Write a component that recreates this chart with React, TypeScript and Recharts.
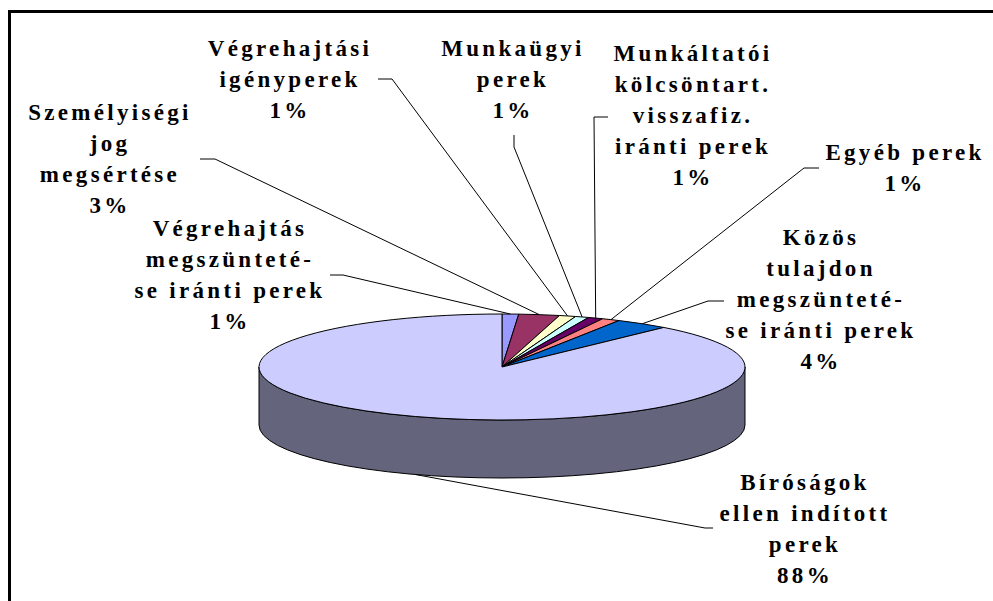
import React from 'react';
import { PieChart, Pie } from 'recharts';

const categories = [
  'Végrehajtás megszüntetése iránti perek',
  'Személyiségi jog megsértése',
  'Végrehajtási igényperek',
  'Munkaügyi perek',
  'Munkáltatói kölcsöntart. visszafiz. iránti perek',
  'Egyéb perek',
  'Közös tulajdon megszüntetése iránti perek',
  'Bíróságok ellen indított perek',
];

const values = [1.1, 2.7, 1.1, 0.9, 1.0, 1.2, 3.6, 88.4];

// label text broken into lines like in the original
const labelLines = [
  ['Végrehajtás', 'megszünteté-', 'se iránti perek'],
  ['Személyiségi', 'jog', 'megsértése'],
  ['Végrehajtási', 'igényperek'],
  ['Munkaügyi', 'perek'],
  ['Munkáltatói', 'kölcsöntart.', 'visszafiz.', 'iránti perek'],
  ['Egyéb perek'],
  ['Közös', 'tulajdon', 'megszünteté-', 'se iránti perek'],
  ['Bíróságok', 'ellen indított', 'perek'],
];

const colors = ['#9999FF', '#993366', '#FFFFCC', '#CCFFFF', '#660066', '#FF8080', '#0066CC', '#CCCCFF'];

// where the labels sit (text centre x, first baseline y) and their leader stubs
const labelLayout = [
  { x: 230, y: 236, stub: [[330, 275], [343, 275]] },
  { x: 110, y: 120, stub: [[200, 159], [215, 159]] },
  { x: 290, y: 56, stub: [[378, 79], [392, 79]] },
  { x: 513, y: 56, stub: [[514, 135], [514, 147]] },
  { x: 693, y: 61, stub: [[608, 117], [594, 117]] },
  { x: 905, y: 160, stub: [[819, 168], [804, 168]] },
  { x: 821, y: 245, stub: [[724, 301], [708, 301]] },
  { x: 805, y: 490, stub: [[713, 528], [705, 528]] },
];

const data = categories.map((name, i) => ({ name, value: values[i] }));

const TILT = 53 / 243;
const DEPTH = 58;
const RAD = Math.PI / 180;
const LINE_H = 31;
const FONT = "'Liberation Serif', 'Times New Roman', serif";

const shade = (hex: string, k: number) => {
  const n = parseInt(hex.slice(1), 16);
  const r = Math.round(((n >> 16) & 255) * k);
  const g = Math.round(((n >> 8) & 255) * k);
  const b = Math.round((n & 255) * k);
  return `rgb(${r},${g},${b})`;
};

const ellipsePt = (cx: number, cy: number, rx: number, ry: number, a: number, dy = 0) => [
  cx + rx * Math.cos(a * RAD),
  cy - ry * Math.sin(a * RAD) + dy,
];

const renderFace = (props: any) => {
  const { cx, cy, outerRadius, startAngle, endAngle, index } = props;
  const rx = outerRadius;
  const ry = outerRadius * TILT;
  const [x1, y1] = ellipsePt(cx, cy, rx, ry, startAngle);
  const [x2, y2] = ellipsePt(cx, cy, rx, ry, endAngle);
  const large = Math.abs(startAngle - endAngle) > 180 ? 1 : 0;
  const face = `M${cx},${cy} L${x1},${y1} A${rx},${ry} 0 ${large} 1 ${x2},${y2} Z`;

  // front half of the disc is between 0 and -180 degrees
  const a1 = Math.min(startAngle, 0);
  const a2 = Math.max(endAngle, -180);
  let side = null;
  if (a1 > a2) {
    const [sx1, sy1] = ellipsePt(cx, cy, rx, ry, a1);
    const [sx2, sy2] = ellipsePt(cx, cy, rx, ry, a2);
    const d = `M${sx1},${sy1} A${rx},${ry} 0 0 1 ${sx2},${sy2} L${sx2},${sy2 + DEPTH} A${rx},${ry} 0 0 0 ${sx1},${sy1 + DEPTH} Z`;
    side = <path d={d} fill={shade(colors[index], 0.49)} stroke="#000" strokeWidth={1} />;
  }
  return (
    <g key={`face-${index}`}>
      {side}
      <path d={face} fill={colors[index]} stroke="#000" strokeWidth={1} strokeLinejoin="round" />
    </g>
  );
};

const renderLabel = (props: any) => {
  const { cx, cy, outerRadius, midAngle, percent, index } = props;
  const rx = outerRadius;
  const ry = outerRadius * TILT;
  const s = Math.sin(midAngle * RAD);
  const [ex, ey] = ellipsePt(cx, cy, rx, ry, midAngle, s < 0 ? DEPTH : 0);
  const lay = labelLayout[index];
  const lines = [...labelLines[index], `${Math.round(percent * 100)}%`];
  const pts = `${lay.stub[0][0]},${lay.stub[0][1]} ${lay.stub[1][0]},${lay.stub[1][1]} ${ex},${ey}`;
  return (
    <g key={`lbl-${index}`}>
      <polyline points={pts} fill="none" stroke="#000" strokeWidth={1} />
      <text
        x={lay.x}
        y={lay.y}
        textAnchor="middle"
        fill="#000"
        fontFamily={FONT}
        fontWeight="bold"
        fontSize={23}
        letterSpacing={3.3}
      >
        {lines.map((t, i) => (
          <tspan key={i} x={lay.x} dy={i === 0 ? 0 : LINE_H}>
            {t}
          </tspan>
        ))}
      </text>
    </g>
  );
};

export default function App() {
  return (
    <div style={{ position: 'absolute', left: 0, top: 0, width: 993, height: 601, overflow: 'hidden', background: '#fff' }}>
      <div
        style={{
          position: 'absolute',
          left: 8,
          top: 10,
          width: 1200,
          height: 800,
          border: '3px solid #000',
        }}
      />
      <div style={{ position: 'absolute', left: 0, top: 0 }}>
        <PieChart width={993} height={601} margin={{ top: 0, right: 0, bottom: 0, left: 0 }}>
          <Pie
            data={data}
            dataKey="value"
            nameKey="name"
            cx={502}
            cy={367}
            outerRadius={243}
            startAngle={90}
            endAngle={-270}
            fill="none"
            stroke="none"
            label={renderFace}
            labelLine={false}
            isAnimationActive={false}
          />
          <Pie
            data={data}
            dataKey="value"
            nameKey="name"
            cx={502}
            cy={367}
            outerRadius={243}
            startAngle={90}
            endAngle={-270}
            fill="none"
            stroke="none"
            label={renderLabel}
            labelLine={false}
            isAnimationActive={false}
          />
        </PieChart>
      </div>
    </div>
  );
}
